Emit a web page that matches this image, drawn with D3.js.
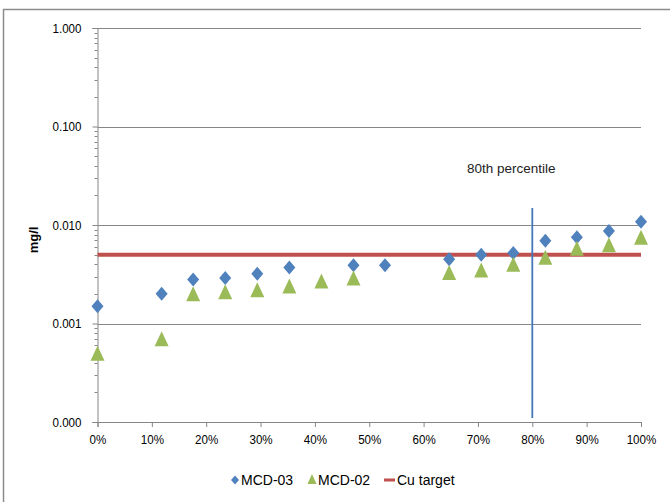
<!DOCTYPE html>
<html>
<head>
<meta charset="utf-8">
<script src="https://cdn.jsdelivr.net/npm/d3@7"></script>
<style>
  body { margin: 0; background: #fff; }
  svg text { font-family: "Liberation Sans Narrow", "Arial Narrow", "Liberation Sans", Arial, sans-serif; }
</style>
</head>
<body>
<div id="chart"></div>
<script>
// percentile positions and concentrations (mg/l)
var pctMCD03 = [0, 11.8, 17.6, 23.5, 29.4, 35.3, 47.1, 52.9, 64.7, 70.6, 76.5, 82.4, 88.2, 94.1, 100];
var valMCD03 = [0.0015, 0.0020, 0.0028, 0.0029, 0.0032, 0.0037, 0.0039, 0.0039, 0.0045, 0.0050, 0.0052, 0.0069, 0.0075, 0.0087, 0.0108];
var pctMCD02 = [0, 11.8, 17.6, 23.5, 29.4, 35.3, 41.2, 47.1, 64.7, 70.6, 76.5, 82.4, 88.2, 94.1, 100];
var valMCD02 = [0.0005, 0.0007, 0.0020, 0.0021, 0.0022, 0.0024, 0.0027, 0.0029, 0.0033, 0.0035, 0.0040, 0.0047, 0.0058, 0.0063, 0.0075];
var cuTarget = 0.005;
var percentileMark = 80;
var xTicks = [0, 10, 20, 30, 40, 50, 60, 70, 80, 90, 100];
var yTicks = [0.0001, 0.001, 0.01, 0.1, 1];
var legendNames = ["MCD-03", "MCD-02", "Cu target"];

var width = 670, height = 502;
var margin = {top: 28, right: 29, bottom: 80, left: 97.5};

var svg = d3.select("#chart").append("svg")
    .attr("width", width)
    .attr("height", height);

// outer chart frame
svg.append("rect")
    .attr("x", 3.5).attr("y", 9.5)
    .attr("width", 700).attr("height", 520)
    .attr("fill", "none")
    .attr("stroke", "#8c8c8c")
    .attr("stroke-width", 1.5);

var x = d3.scaleLinear().domain([0, 100]).range([margin.left, width - margin.right]);
var y = d3.scaleLog().domain([0.0001, 1]).range([height - margin.bottom, margin.top]);

var gridColor = "#868686";
var squeeze = 0.86; // narrow look of the original labels

// gridlines
svg.append("g").selectAll("line")
    .data(yTicks.slice(1))
    .enter().append("line")
    .attr("x1", x(0)).attr("x2", x(100))
    .attr("y1", function(d) { return Math.round(y(d)) + 0.5; })
    .attr("y2", function(d) { return Math.round(y(d)) + 0.5; })
    .attr("stroke", gridColor)
    .attr("stroke-width", 1);

// y axis
var yAxis = d3.axisLeft(y)
    .tickValues(yTicks)
    .tickFormat(d3.format(".3f"))
    .tickSize(5)
    .tickPadding(12);

var gy = svg.append("g")
    .attr("transform", "translate(" + x(0) + ",0)")
    .call(yAxis);
gy.select(".domain").attr("stroke", gridColor);
gy.selectAll(".tick line").attr("stroke", gridColor);
gy.selectAll(".tick text")
    .attr("font-size", "13.5px").attr("fill", "#000")
    .attr("x", 0)
    .attr("transform", "translate(-16,0) scale(" + squeeze + ",1)");

// minor log ticks
var minor = y.ticks().filter(function(d) { return yTicks.indexOf(d) < 0; });
gy.selectAll(".minor")
    .data(minor)
    .enter().append("line")
    .attr("class", "minor")
    .attr("x1", -3).attr("x2", 0)
    .attr("y1", function(d) { return Math.round(y(d)) + 0.5; })
    .attr("y2", function(d) { return Math.round(y(d)) + 0.5; })
    .attr("stroke", gridColor);

// x axis
var xAxis = d3.axisBottom(x)
    .tickValues(xTicks)
    .tickFormat(function(d) { return d + "%"; })
    .tickSize(5)
    .tickPadding(7);

var gx = svg.append("g")
    .attr("transform", "translate(0," + y(0.0001) + ")")
    .call(xAxis);
gx.select(".domain").attr("stroke", gridColor);
gx.selectAll(".tick line").attr("stroke", gridColor);
gx.selectAll(".tick text")
    .attr("font-size", "13.5px").attr("fill", "#000")
    .attr("transform", "scale(" + squeeze + ",1)");

// y title
svg.append("text")
    .attr("transform", "translate(38,240) rotate(-90)")
    .attr("text-anchor", "middle")
    .attr("font-size", "13px")
    .attr("font-weight", "bold")
    .attr("font-family", "Liberation Sans, Arial, sans-serif")
    .text("mg/l");

// Cu target line
svg.append("line")
    .attr("x1", x(0)).attr("x2", x(100))
    .attr("y1", y(cuTarget)).attr("y2", y(cuTarget))
    .attr("stroke", "#C0504D")
    .attr("stroke-width", 4);

// 80th percentile marker
svg.append("line")
    .attr("x1", x(percentileMark)).attr("x2", x(percentileMark))
    .attr("y1", 208).attr("y2", y(0.0001) - 4)
    .attr("stroke", "#4577bb")
    .attr("stroke-width", 1.8);

svg.append("text")
    .attr("x", x(percentileMark) - 21)
    .attr("y", 173)
    .attr("text-anchor", "middle")
    .attr("font-size", "13.5px")
    .attr("fill", "#222")
    .text("80th percentile");

// symbols
var diamond = "M0,-7L6,0L0,7L-6,0Z";
var triangle = "M0,-7.5L7,7.5L-7,7.5Z";

var ptsMCD02 = pctMCD02.map(function(p, i) { return {p: p, v: valMCD02[i]}; });
var ptsMCD03 = pctMCD03.map(function(p, i) { return {p: p, v: valMCD03[i]}; });

svg.append("g").selectAll("path")
    .data(ptsMCD03)
    .enter().append("path")
    .attr("d", diamond)
    .attr("transform", function(d) { return "translate(" + x(d.p) + "," + y(d.v) + ")"; })
    .attr("fill", "#4F81BD");

svg.append("g").selectAll("path")
    .data(ptsMCD02)
    .enter().append("path")
    .attr("d", triangle)
    .attr("transform", function(d) { return "translate(" + x(d.p) + "," + y(d.v) + ")"; })
    .attr("fill", "#9BBB59");

// legend
var legend = svg.append("g").attr("transform", "translate(0,480)");
legend.append("path").attr("d", "M0,-4.5L4,0L0,4.5L-4,0Z")
    .attr("transform", "translate(235,0)").attr("fill", "#4F81BD");
legend.append("text").attr("x", 241).attr("y", 5).attr("font-size", "14px").text(legendNames[0]);
legend.append("path").attr("d", "M0,-5L4.5,5L-4.5,5Z")
    .attr("transform", "translate(312,-1)").attr("fill", "#9BBB59");
legend.append("text").attr("x", 318).attr("y", 5).attr("font-size", "14px").text(legendNames[1]);
legend.append("rect").attr("x", 384).attr("y", -1.5).attr("width", 11).attr("height", 3)
    .attr("fill", "#C0504D");
legend.append("text").attr("x", 397).attr("y", 5).attr("font-size", "14px").text(legendNames[2]);
</script>
</body>
</html>
